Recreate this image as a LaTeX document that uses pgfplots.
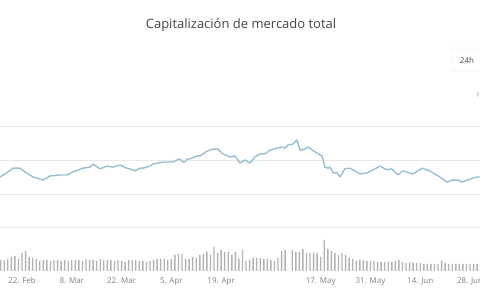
\documentclass[border=0pt]{standalone}
\usepackage{pgfplots}
\pgfplotsset{compat=1.18}
\usepackage{fontspec}
\setmainfont{Open Sans}
\definecolor{titlec}{HTML}{444444}
\definecolor{tickc}{HTML}{808080}
\definecolor{gridc}{HTML}{E8E8E8}
\definecolor{linec}{HTML}{9BBDD1}
\definecolor{barc}{HTML}{B2B2B2}
\definecolor{btnc}{HTML}{DDDDDD}
\begin{document}
\begin{tikzpicture}
\path[use as bounding box] (0pt,0pt) rectangle (480pt,300pt);
\clip (0pt,0pt) rectangle (480pt,300pt);
% title
\node[text=titlec, font=\fontsize{13}{15}\selectfont] at (241pt,275pt) {Capitalización de mercado total};
% 24h button
\draw[btnc, rounded corners=2pt, fill=white] (452pt,229pt) rectangle (495pt,252pt);
\node[text=titlec, font=\fontsize{8}{9}\selectfont] at (467pt,240pt) {24h};
\node[text=tickc!70, font=\fontsize{6}{7}\selectfont, anchor=west, inner sep=0pt] at (476.5pt,205pt) {F};
% price axis
\begin{axis}[
  at={(0pt,106pt)}, anchor=south west,
  width=480pt, height=68pt, scale only axis,
  xmin=-6.19, xmax=128.8, ymin=1, ymax=3,
  axis line style={draw=none}, tick style={draw=none},
  xtick=\empty, ytick={1,2,3}, yticklabels={},
  ymajorgrids, major grid style={gridc, line width=0.8pt},
]
\addplot[linec, line width=1.4pt, line join=round] coordinates {
(-6.2,1.50) (-4.8,1.59) (-2.5,1.76) (-0.6,1.76) (0.8,1.65) (3.1,1.50) (5.9,1.41) (7.9,1.53) (10.7,1.56) (12.7,1.56) (14.3,1.65) (17.2,1.76) (19.1,1.79) (20.0,1.88) (21.9,1.74) (23.9,1.82) (25.6,1.79) (27.6,1.85) (29.5,1.76) (31.2,1.71) (31.8,1.68) (33.2,1.76) (34.0,1.76) (36.0,1.82) (36.8,1.88) (39.7,1.94) (40.8,1.94) (41.6,1.94) (42.5,1.94) (43.6,2.00) (44.4,2.03) (45.3,1.94) (45.8,1.94) (46.4,2.03) (47.2,2.03) (49.2,2.12) (50.1,2.12) (52.0,2.26) (53.7,2.32) (55.1,2.32) (56.5,2.18) (58.5,2.09) (59.9,2.12) (61.3,1.91) (62.7,2.00) (64.1,1.91) (65.5,2.09) (66.9,2.18) (68.3,2.18) (69.7,2.29) (71.7,2.35) (73.1,2.38) (74.0,2.35) (74.8,2.44) (76.2,2.47) (77.3,2.59) (78.2,2.29) (79.6,2.32) (80.4,2.38) (82.4,2.24) (83.8,2.15) (84.4,2.12) (85.2,1.79) (86.1,1.76) (86.6,1.79) (87.5,1.62) (88.6,1.62) (89.4,1.50) (90.8,1.74) (92.2,1.76) (93.6,1.68) (95.1,1.59) (97.0,1.62) (98.7,1.71) (100.7,1.82) (102.6,1.71) (104.0,1.74) (105.7,1.56) (107.1,1.68) (110.0,1.59) (112.5,1.76) (114.7,1.68) (117.5,1.50) (119.5,1.35) (120.9,1.41) (122.6,1.41) (123.7,1.35) (126.0,1.44) (128.0,1.50) (128.8,1.50)
};
\end{axis}
% volume axis
\begin{axis}[
  at={(0pt,29pt)}, anchor=south west,
  width=480pt, height=44pt, scale only axis,
  xmin=-6.19, xmax=128.8, ymin=0, ymax=660,
  axis line style={draw=none}, tick style={draw=none},
  ytick={660}, yticklabels={},
  ymajorgrids, major grid style={gridc, line width=0.8pt},
  xtick={0,14,28,42,56,84,98,112,126},
  xticklabels={22. Feb,8. Mar,22. Mar,5. Apr,19. Apr,17. May,31. May,14. Jun,28. Jun},
  xticklabel style={text=tickc, font=\fontsize{8}{9}\selectfont, anchor=base, yshift=-13pt, inner sep=0pt},
  clip=false,
]
\addplot[ybar, bar width=1.4pt, bar shift=0pt, fill=barc, draw=none] coordinates {
(-6,165) (-5,165) (-4,180) (-3,210) (-2,225) (-1,180) (0,270) (1,300) (2,210) (3,195) (4,180) (5,150) (6,165) (7,165) (8,150) (9,165) (10,165) (11,150) (12,165) (13,150) (14,165) (15,165) (16,165) (17,150) (18,180) (19,165) (20,165) (21,150) (22,180) (23,165) (24,165) (25,165) (26,150) (27,165) (28,150) (29,135) (30,165) (31,165) (32,165) (33,150) (34,150) (35,135) (36,150) (37,165) (38,180) (39,180) (40,180) (41,165) (42,180) (43,240) (44,255) (45,255) (46,180) (47,180) (48,210) (49,195) (50,240) (51,255) (52,285) (53,240) (54,360) (55,270) (56,315) (57,285) (58,285) (59,240) (60,285) (61,180) (62,315) (63,150) (64,165) (65,195) (66,195) (67,195) (68,180) (69,180) (70,165) (71,150) (72,195) (73,300) (74,315) (75,0) (76,315) (77,285) (78,285) (79,330) (80,270) (81,270) (82,270) (83,270) (84,210) (85,465) (86,330) (87,300) (88,270) (89,240) (90,270) (91,240) (92,195) (93,180) (94,150) (95,165) (96,165) (97,150) (98,150) (99,150) (100,135) (101,135) (102,135) (103,135) (104,135) (105,150) (106,165) (107,135) (108,120) (109,120) (110,120) (111,120) (112,120) (113,105) (114,105) (115,105) (116,105) (117,105) (118,150) (119,120) (120,105) (121,105) (122,105) (123,105) (124,105) (125,105) (126,105) (127,105) (128,105)
};
\end{axis}
\end{tikzpicture}
\end{document}
